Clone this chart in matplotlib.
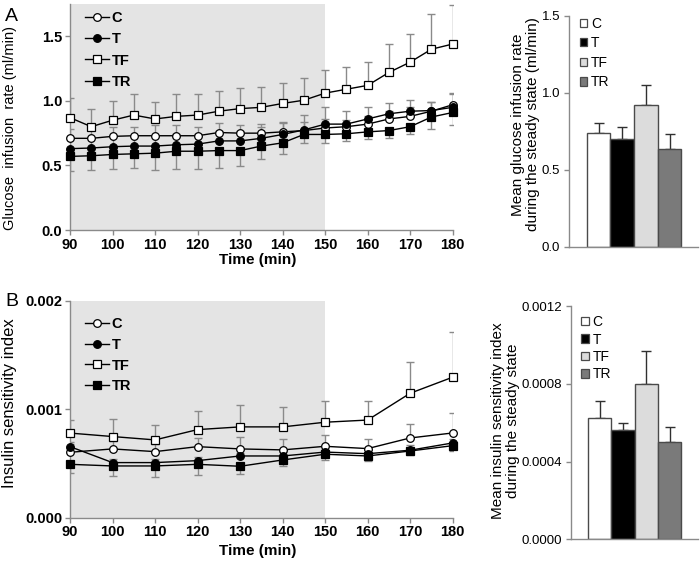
import matplotlib
matplotlib.use("Agg")
import matplotlib.pyplot as plt
from matplotlib.lines import Line2D
from matplotlib.patches import Patch
from matplotlib.ticker import FormatStrFormatter
import numpy as np

plt.rcParams['font.family'] = ['Liberation Sans', 'DejaVu Sans']

groups = ["C", "T", "TF", "TR"]

# Panel A: glucose infusion rate (ml/min)
time_a = [90, 95, 100, 105, 110, 115, 120, 125, 130, 135, 140, 145, 150, 155, 160, 165, 170, 175, 180]
gir_C = [0.71, 0.71, 0.725, 0.73, 0.73, 0.73, 0.73, 0.755, 0.75, 0.75, 0.76, 0.77, 0.79, 0.80, 0.82, 0.86, 0.88, 0.92, 0.97]
gir_T = [0.63, 0.635, 0.645, 0.65, 0.65, 0.66, 0.665, 0.69, 0.69, 0.71, 0.74, 0.775, 0.82, 0.82, 0.86, 0.90, 0.92, 0.925, 0.95]
gir_TF = [0.87, 0.80, 0.85, 0.89, 0.86, 0.88, 0.89, 0.92, 0.94, 0.95, 0.98, 1.005, 1.06, 1.09, 1.12, 1.22, 1.30, 1.40, 1.44]
gir_TR = [0.57, 0.575, 0.585, 0.59, 0.595, 0.61, 0.61, 0.615, 0.615, 0.65, 0.675, 0.74, 0.74, 0.745, 0.76, 0.77, 0.80, 0.875, 0.91]
gir_C_err = [0.07, 0.09, 0.07, 0.07, 0.08, 0.08, 0.07, 0.07, 0.06, 0.07, 0.07, 0.07, 0.07, 0.055, 0.06, 0.06, 0.07, 0.07, 0.09]
gir_T_err = [0.08, 0.08, 0.08, 0.08, 0.08, 0.08, 0.08, 0.08, 0.08, 0.09, 0.10, 0.115, 0.13, 0.10, 0.09, 0.085, 0.09, 0.07, 0.10]
gir_TF_err = [0.15, 0.14, 0.15, 0.16, 0.13, 0.17, 0.165, 0.16, 0.16, 0.16, 0.16, 0.17, 0.18, 0.175, 0.18, 0.22, 0.22, 0.27, 0.30]
gir_TR_err = [0.11, 0.11, 0.11, 0.11, 0.13, 0.14, 0.14, 0.135, 0.12, 0.10, 0.09, 0.07, 0.065, 0.055, 0.055, 0.055, 0.055, 0.09, 0.095]

# Panel B: insulin sensitivity index
time_b = [90, 100, 110, 120, 130, 140, 150, 160, 170, 180]
isi_C = [0.000603, 0.000634, 0.000609, 0.000655, 0.000634, 0.000625, 0.000658, 0.000637, 0.000735, 0.000781]
isi_T = [0.000655, 0.000508, 0.000508, 0.000526, 0.000569, 0.000569, 0.000605, 0.000590, 0.000622, 0.000689]
isi_TF = [0.000780, 0.000748, 0.000717, 0.000812, 0.000837, 0.000837, 0.000880, 0.000900, 0.001147, 0.001295]
isi_TR = [0.000492, 0.000477, 0.000477, 0.000492, 0.000474, 0.000532, 0.000585, 0.000569, 0.000615, 0.000664]
isi_C_err = [0.00008, 0.00007, 0.00007, 0.00008, 0.00011, 0.0001, 0.0001, 0.00009, 0.00013, 0.00018]
isi_T_err = [0.00004, 0.00003, 0.00003, 0.00003, 0.00003, 0.00004, 0.00003, 0.00003, 0.00005, 0.00004]
isi_TF_err = [0.00012, 0.00016, 0.00014, 0.00017, 0.0002, 0.00018, 0.0002, 0.00018, 0.00029, 0.00042]
isi_TR_err = [0.00008, 0.00009, 0.0001, 0.0001, 0.00007, 0.00006, 0.00005, 0.00005, 0.00004, 0.00005]

# Bar charts: steady-state means
gir_mean = [0.74, 0.697, 0.92, 0.636]
gir_mean_err = [0.06, 0.08, 0.13, 0.094]
isi_mean = [0.000622, 0.000562, 0.000799, 0.000500]
isi_mean_err = [0.00009, 0.000035, 0.00017, 0.000078]

fig = plt.figure(figsize=(7.0, 5.65), dpi=100)

SPINE = '#8a8a8a'
ERR = '#8a8a8a'
SHADE = '#e4e4e4'
styles = {
    "C": dict(marker='o', mfc='white', ms=5.5),
    "T": dict(marker='o', mfc='black', ms=5.5),
    "TF": dict(marker='s', mfc='white', ms=6),
    "TR": dict(marker='s', mfc='black', ms=6),
}
bar_colors = ['white', 'black', '#dcdcdc', '#7a7a7a']


def style_axes(ax, pad):
    for s in ['top', 'right']:
        ax.spines[s].set_visible(False)
    for s in ['left', 'bottom']:
        ax.spines[s].set_color(SPINE)
        ax.spines[s].set_linewidth(1.0)
        ax.spines[s].set_zorder(3)
    ax.tick_params(axis='both', direction='out', length=3.5, color=SPINE, width=1.0, pad=pad)


def line_panel(ax, t, series, errs, upper, ylim, yticks, fmt, ylabel, ylabel_size, label_y,
               xlabel_y, leg_y, leg_sp):
    ax.axvspan(90, 150, color=SHADE, zorder=0, lw=0)
    for g, y, e, up in zip(groups, series, errs, upper):
        y = np.array(y)
        e = np.array(e)
        z = np.zeros_like(e)
        yerr = [z, e] if up else [e, z]
        ax.errorbar(t, y, yerr=yerr, fmt='none', ecolor=ERR, elinewidth=1.0, capsize=3, capthick=1.0, zorder=1)
        ax.plot(t, y, color='black', lw=1.0, mec='black', mew=0.9, zorder=4, clip_on=False, **styles[g])
    ax.set_xlim(90, 180)
    ax.set_ylim(*ylim)
    ax.set_xticks(range(90, 181, 10))
    ax.set_yticks(yticks)
    ax.yaxis.set_major_formatter(FormatStrFormatter(fmt))
    style_axes(ax, 2)
    for lab in ax.get_xticklabels() + ax.get_yticklabels():
        lab.set_fontweight('bold')
        lab.set_fontsize(10.5)
    ax.set_xlabel('Time (min)', fontsize=11, fontweight='bold')
    ax.xaxis.set_label_coords(0.49, xlabel_y)
    ax.set_ylabel(ylabel, fontsize=ylabel_size)
    ax.yaxis.set_label_coords(-0.138, label_y)
    handles = [Line2D([], [], color='black', lw=1.0, mec='black', mew=0.9, **styles[g]) for g in groups]
    ax.legend(handles, groups, loc='upper left', bbox_to_anchor=(0.025, leg_y), frameon=False,
              prop={'size': 10.5, 'weight': 'bold'}, handlelength=1.6, handletextpad=0.2,
              labelspacing=leg_sp, borderaxespad=0)


def bar_panel(ax, means, errs, ylim, yticks, fmt, ylabel, label_x, label_y, leg_y, spacing):
    x = np.arange(len(groups))
    ax.bar(x, means, width=1.0, color=bar_colors, edgecolor='#4a4a4a', linewidth=1.0, zorder=2)
    ax.errorbar(x, means, yerr=[np.zeros(len(errs)), errs], fmt='none', ecolor='#303030',
                elinewidth=1.0, capsize=3.5, capthick=1.0, zorder=1)
    ax.set_xlim(-1.25, 4.2)
    ax.set_ylim(*ylim)
    ax.set_yticks(yticks)
    ax.yaxis.set_major_formatter(FormatStrFormatter(fmt))
    ax.set_xticks([])
    style_axes(ax, 3)
    for lab in ax.get_yticklabels():
        lab.set_fontsize(9.5)
    ax.set_ylabel(ylabel, fontsize=11, linespacing=1.1)
    ax.yaxis.set_label_coords(label_x, label_y)
    handles = [Patch(facecolor=c, edgecolor='#4a4a4a', lw=0.9) for c in bar_colors]
    ax.legend(handles, groups, loc='upper left', bbox_to_anchor=(0.04, leg_y), frameon=False,
              prop={'size': 10}, handlelength=0.55, handleheight=0.55, handletextpad=0.25,
              labelspacing=spacing, borderaxespad=0)


# Panel A line chart
axA = fig.add_axes([0.1, 0.5929, 0.5467, 0.40])
line_panel(axA, time_a, [gir_C, gir_T, gir_TF, gir_TR],
           [gir_C_err, gir_T_err, gir_TF_err, gir_TR_err], [True, True, True, False],
           (0, 1.75), [0.0, 0.5, 1.0, 1.5], '%.1f',
           'Glucose  infusion  rate (ml/min)', 10.5, 0.45, -0.1, 0.995, 0.5)

# Panel A bar chart
axAb = fig.add_axes([0.8129, 0.5634, 0.1843, 0.4088])
bar_panel(axAb, gir_mean, gir_mean_err, (0, 1.5), [0.0, 0.5, 1.0, 1.5], '%.1f',
          'Mean glucose infusion rate\nduring the steady state (ml/min)', -0.225, 0.53, 1.02, 0.40)

# Panel B line chart
axB = fig.add_axes([0.1, 0.0837, 0.5467, 0.3841])
line_panel(axB, time_b, [isi_C, isi_T, isi_TF, isi_TR],
           [isi_C_err, isi_T_err, isi_TF_err, isi_TR_err], [True, True, True, False],
           (0, 0.002), [0.0, 0.001, 0.002], '%.3f',
           'Insulin sensitivity index', 12, 0.53, -0.12, 0.95, 0.45)

# Panel B bar chart
axBb = fig.add_axes([0.8153, 0.0455, 0.1814, 0.4129])
bar_panel(axBb, isi_mean, isi_mean_err, (0, 0.0012), [0.0, 0.0004, 0.0008, 0.0012], '%.4f',
          'Mean insulin sensitivity index\nduring the steady state', -0.40, 0.51, 0.985, 0.25)

fig.text(0.007, 0.986, 'A', fontsize=14, va='top', ha='left')
fig.text(0.007, 0.482, 'B', fontsize=14, va='top', ha='left')

fig.savefig('out.png', dpi=100)
